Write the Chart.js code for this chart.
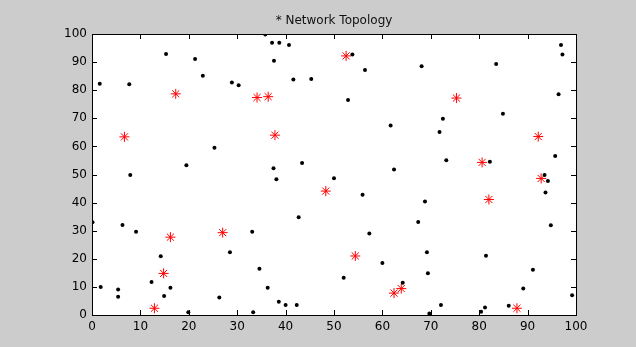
<!DOCTYPE html>
<html>
<head>
<meta charset="utf-8">
<script src="https://cdn.jsdelivr.net/npm/chart.js@4/dist/chart.umd.min.js"></script>
<style>
  html, body { margin: 0; padding: 0; background: #cccccc; }
  #wrap { width: 636px; height: 347px; position: relative; }
</style>
</head>
<body>
<div id="wrap"><canvas id="chart"></canvas></div>
<script>
// sensor nodes (black dots)
const nodeX = [1.6, 7.7, 15.3, 21.3, 22.9, 28.9, 30.3, 35.8, 37.2, 38.7, 37.6, 40.7, 41.6, 45.3,
  25.3, 19.5, 37.5, 43.4, 53.8, 56.4, 68.1, 83.5, 96.9, 97.2, 96.4, 52.9, 84.9, 72.5, 61.7, 71.8,
  95.7, 73.2, 82.2, 62.4, 7.9, 38.1, 0.1, 6.3, 9.1, 42.7, 33.1, 28.5, 14.2, 34.6, 12.3, 1.8,
  5.4, 5.4, 16.2, 14.9, 26.3, 36.3, 38.6, 40.0, 42.3, 19.9, 33.3, 50.0, 93.5, 94.2, 93.7, 55.9,
  68.8, 67.4, 94.8, 57.3, 69.2, 81.4, 60.0, 91.1, 69.4, 52.0, 64.2, 89.1, 99.2, 72.1, 86.1, 81.2,
  80.4, 69.7];
const nodeY = [82.3, 82.1, 92.9, 91.1, 85.1, 82.7, 81.8, 99.8, 96.9, 96.9, 90.5, 96.1, 83.8, 84.0,
  59.5, 53.3, 52.2, 54.1, 92.7, 87.2, 88.5, 89.3, 96.1, 92.7, 78.6, 76.5, 71.6, 69.8, 67.4, 65.1,
  56.6, 55.1, 54.5, 51.8, 49.8, 48.3, 33.0, 32.0, 29.6, 34.8, 29.6, 22.3, 20.9, 16.5, 11.7, 10.0,
  9.1, 6.5, 9.7, 6.8, 6.2, 9.7, 4.7, 3.6, 3.6, 1.0, 1.0, 48.7, 49.8, 47.7, 43.6, 42.8,
  40.4, 33.1, 31.9, 29.0, 22.3, 21.1, 18.5, 16.1, 14.9, 13.3, 11.5, 9.4, 7.0, 3.6, 3.3, 2.7,
  1.2, 0.5];

// cluster heads (red asterisks)
const headX = [6.7, 17.3, 34.1, 36.4, 37.8, 52.5, 75.3, 92.2, 80.6, 48.3, 16.2, 27.0, 14.8, 12.9,
  92.8, 82.0, 54.4, 63.9, 62.4, 87.8];
const headY = [63.4, 78.7, 77.4, 77.7, 64.0, 92.2, 77.2, 63.5, 54.3, 44.1, 27.7, 29.3, 14.8, 2.4,
  48.6, 41.1, 21.0, 9.4, 7.8, 2.4];

const tickValues = [0, 10, 20, 30, 40, 50, 60, 70, 80, 90, 100];
const chartTitle = "* Network Topology";

const toPoints = (xs, ys) => xs.map((x, i) => ({ x: x, y: ys[i] }));

// white plot area, box, inward ticks, title
const matlabAxes = {
  id: "matlabAxes",
  beforeDraw(chart) {
    const { ctx, chartArea: a } = chart;
    ctx.save();
    ctx.fillStyle = "#ffffff";
    ctx.fillRect(a.left, a.top, a.right - a.left, a.bottom - a.top);
    ctx.restore();
  },
  afterDraw(chart) {
    const { ctx, chartArea: a, scales } = chart;
    ctx.save();
    ctx.strokeStyle = "#000000";
    ctx.lineWidth = 1;
    ctx.strokeRect(Math.round(a.left) + 0.5, Math.round(a.top) + 0.5,
      Math.round(a.right - a.left), Math.round(a.bottom - a.top));
    ctx.beginPath();
    tickValues.forEach(v => {
      const px = Math.round(scales.x.getPixelForValue(v)) + 0.5;
      ctx.moveTo(px, a.bottom); ctx.lineTo(px, a.bottom - 5);
      ctx.moveTo(px, a.top); ctx.lineTo(px, a.top + 5);
      const py = Math.round(scales.y.getPixelForValue(v)) + 0.5;
      ctx.moveTo(a.left, py); ctx.lineTo(a.left + 5, py);
      ctx.moveTo(a.right, py); ctx.lineTo(a.right - 5, py);
    });
    ctx.stroke();
    ctx.fillStyle = "#111111";
    ctx.font = "12px 'DejaVu Sans'";
    ctx.textAlign = "center";
    ctx.textBaseline = "middle";
    ctx.fillText(chartTitle, (a.left + a.right) / 2, 21);
    ctx.restore();
  }
};

new Chart(document.getElementById("chart"), {
  type: "scatter",
  data: {
    datasets: [
      {
        label: "Nodes",
        data: toPoints(nodeX, nodeY),
        pointStyle: "circle",
        pointRadius: 2,
        backgroundColor: "#000000",
        borderColor: "#000000",
        borderWidth: 0,
      },
      {
        label: "Cluster heads",
        data: toPoints(headX, headY),
        pointStyle: "star",
        pointRadius: 5,
        backgroundColor: "#ff0000",
        borderColor: "#ff0000",
        borderWidth: 1,
      },
    ],
  },
  options: {
    responsive: true,
    maintainAspectRatio: false,
    animation: false,
    layout: { padding: { top: 34, right: 60, left: 0, bottom: 0 } },
    plugins: { legend: { display: false }, tooltip: { enabled: false }, title: { display: false } },
    scales: {
      x: {
        type: "linear",
        min: 0,
        max: 100,
        grid: { display: false, drawTicks: false },
        border: { display: false },
        ticks: { stepSize: 10, color: "#000000", padding: 5, maxRotation: 0,
          font: { family: "'DejaVu Sans'", size: 12 } },
        afterFit(scale) { scale.height = 32; },
      },
      y: {
        type: "linear",
        min: 0,
        max: 100,
        grid: { display: false, drawTicks: false },
        border: { display: false },
        ticks: { stepSize: 10, color: "#000000", padding: 5,
          font: { family: "'DejaVu Sans'", size: 12 } },
        afterFit(scale) { scale.width = 92; },
      },
    },
  },
  plugins: [matlabAxes],
});
</script>
</body>
</html>
